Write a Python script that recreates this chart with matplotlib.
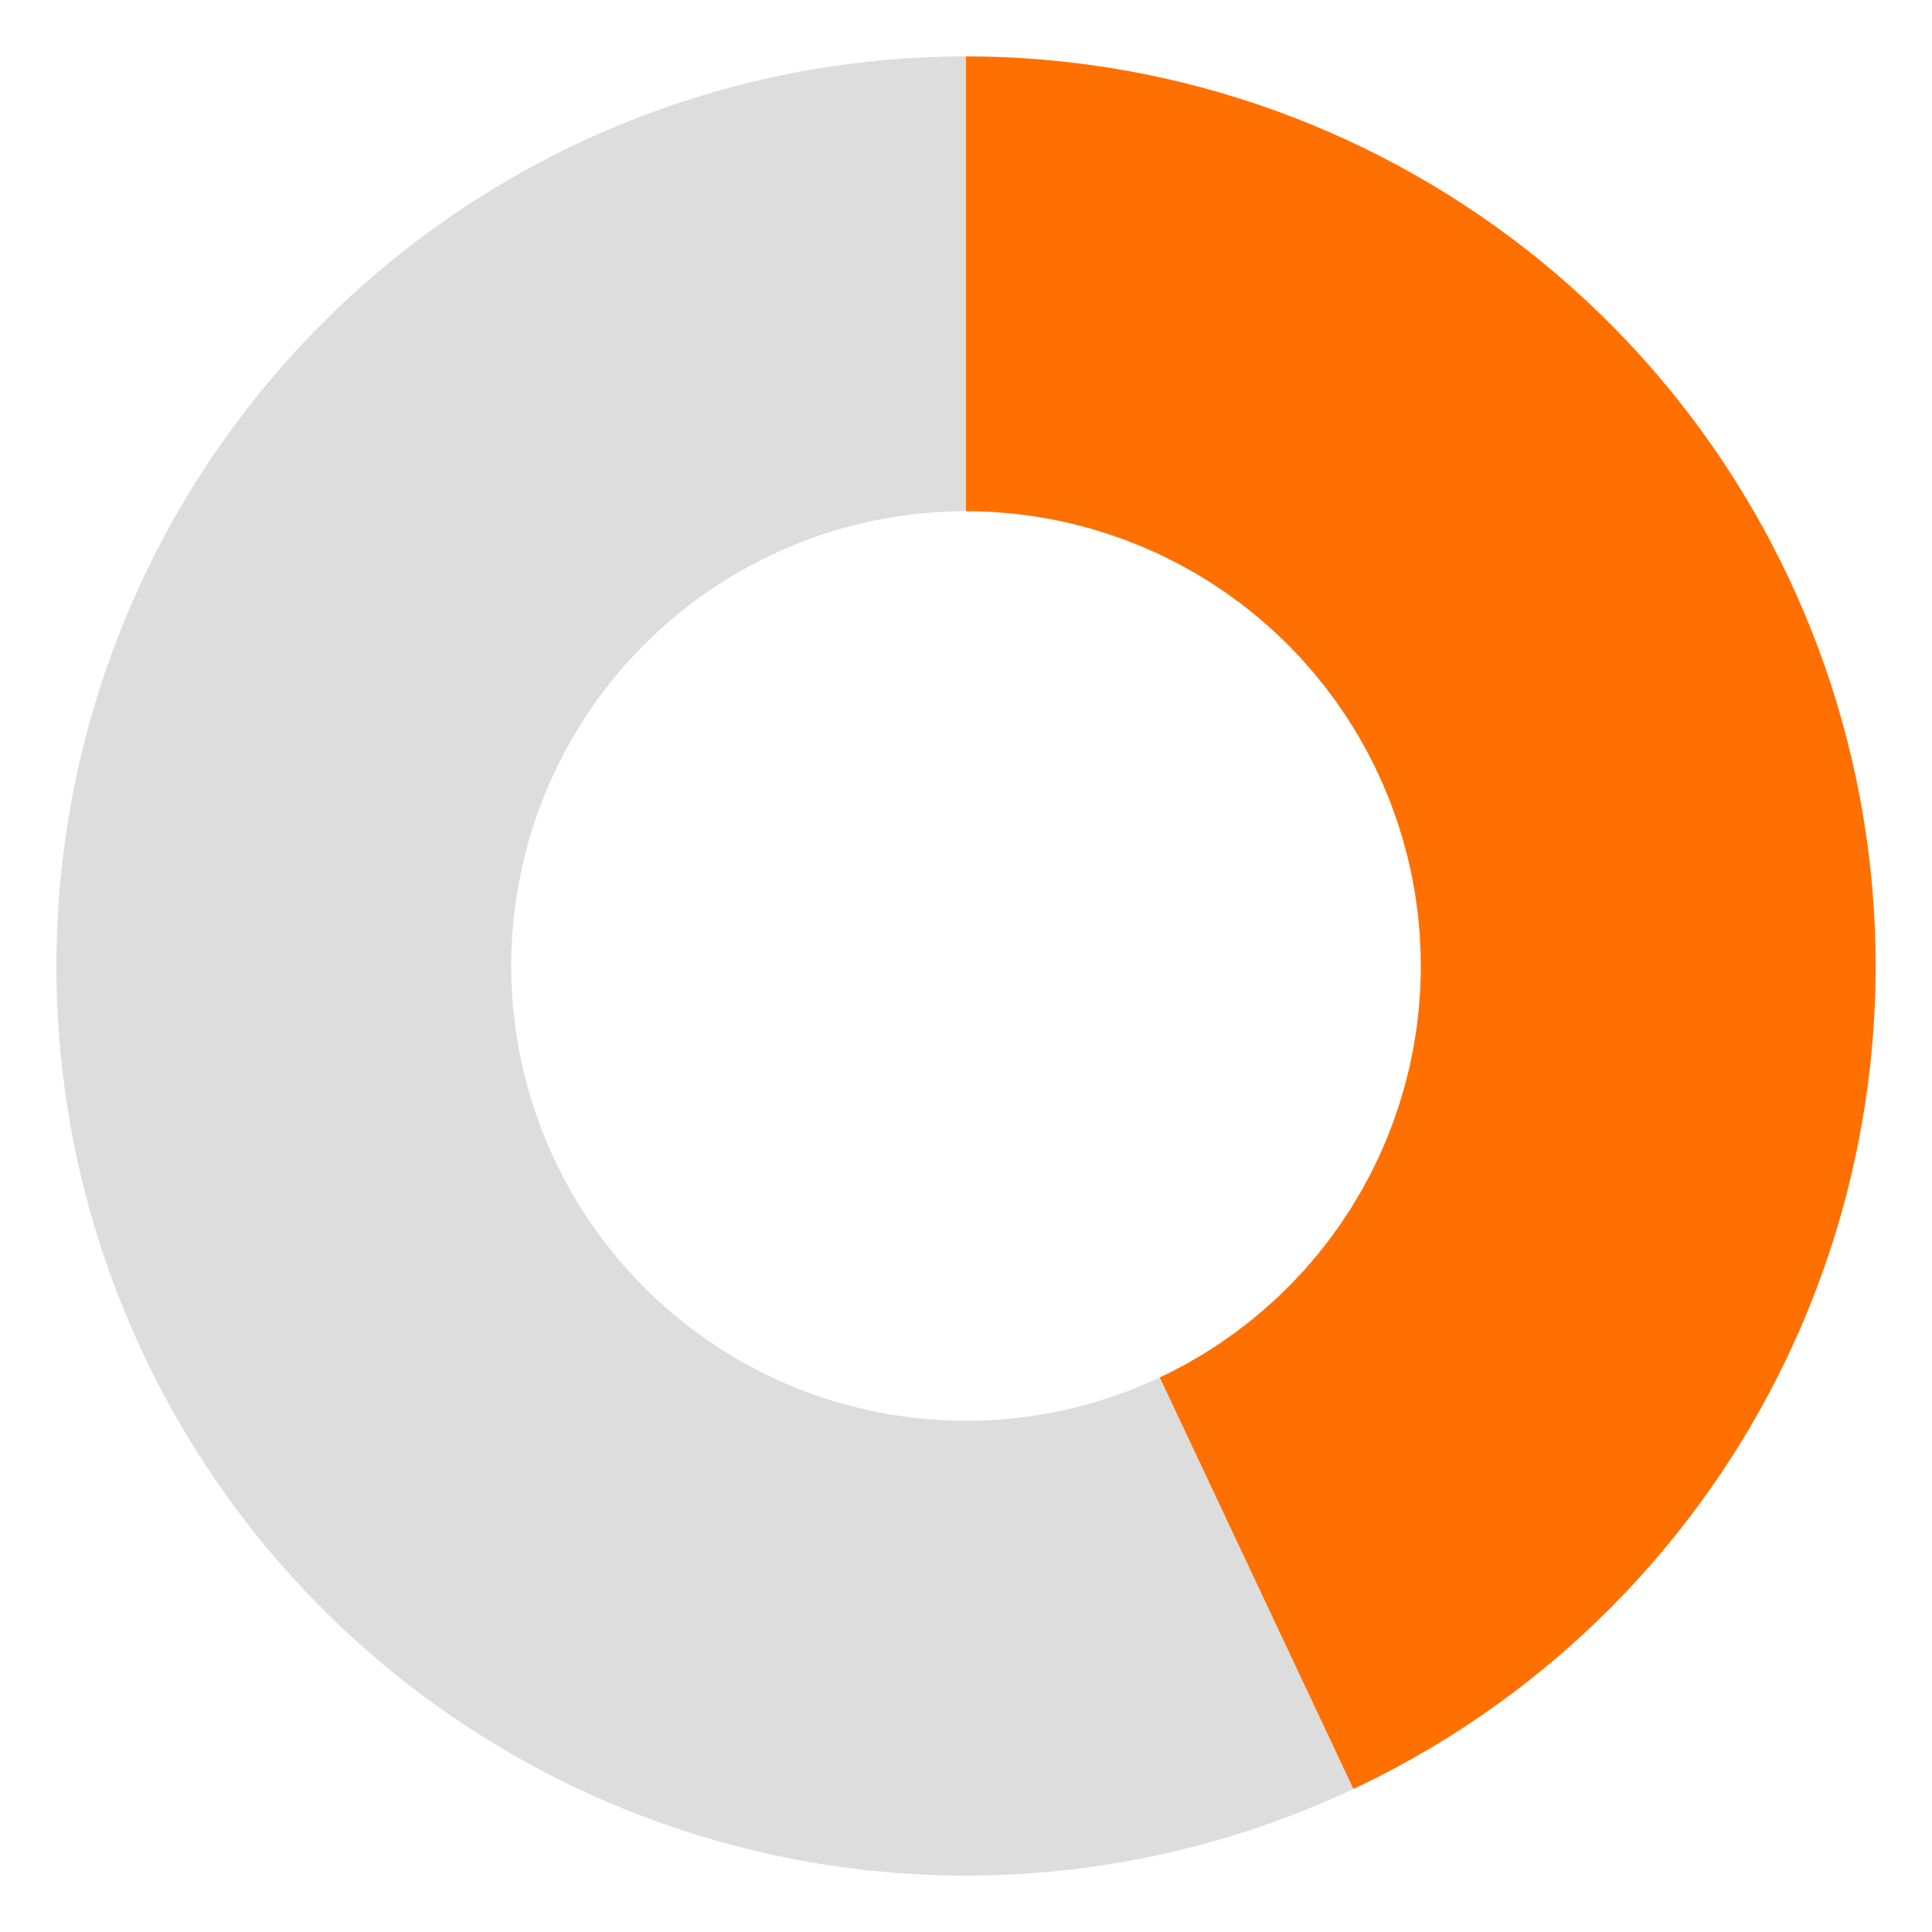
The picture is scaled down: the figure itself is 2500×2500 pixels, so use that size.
import matplotlib
matplotlib.use("Agg")
import matplotlib.pyplot as plt

# donut data: share done vs remaining
labels = ["Done", "Remaining"]
values = [43, 57]
colors = ["#FF7000", "#DDDDDD"]

fig = plt.figure(figsize=(10, 10), dpi=250)
ax = fig.add_axes([0, 0, 1, 1])

ax.pie(values, colors=colors, startangle=90, counterclock=False,
       radius=1.0, wedgeprops=dict(width=0.5, edgecolor="none"))

ax.set_xlim(-1.062, 1.062)
ax.set_ylim(-1.062, 1.062)
ax.set_aspect("equal")
ax.axis("off")

fig.savefig("out.png", dpi=250, facecolor="white")
